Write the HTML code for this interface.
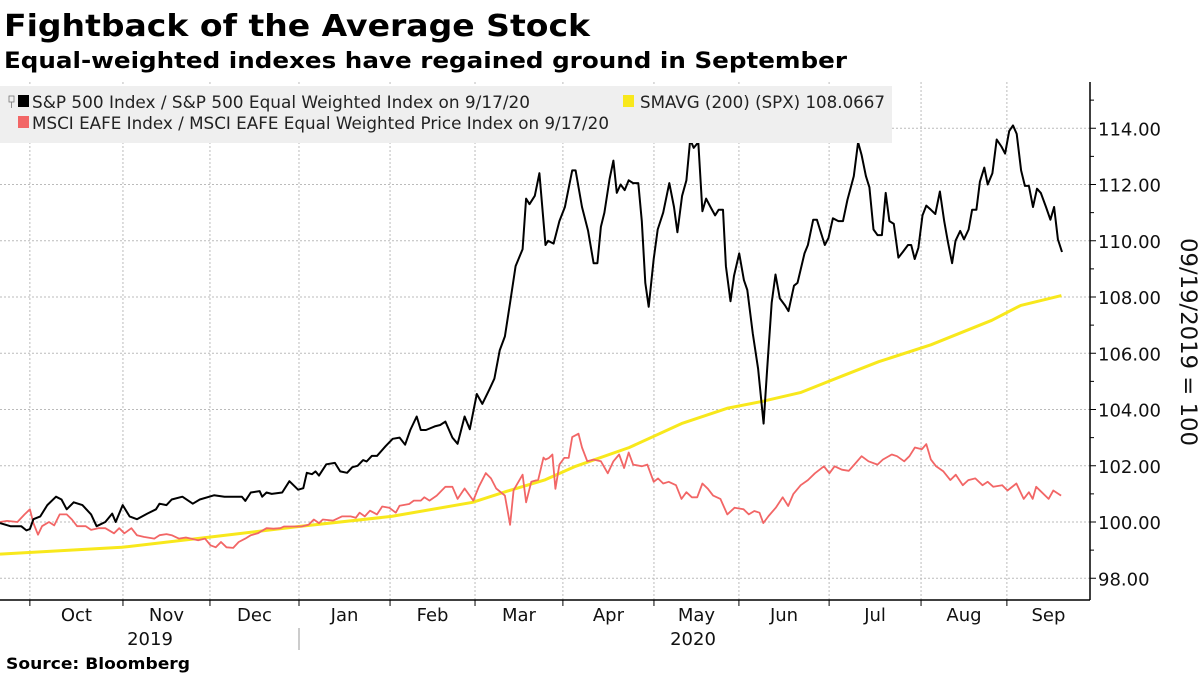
<!DOCTYPE html>
<html><head><meta charset="utf-8">
<style>
body{margin:0;background:#fff;width:1200px;height:675px;overflow:hidden;font-family:"DejaVu Sans","Liberation Sans",sans-serif;}
svg{display:block}
text{font-family:"DejaVu Sans","Liberation Sans",sans-serif;}
</style></head>
<body>
<svg id="chart" width="1200" height="675" viewBox="0 0 1200 675" xmlns="http://www.w3.org/2000/svg">
<text x="4" y="36" font-size="30" font-weight="bold" fill="#000" textLength="586" lengthAdjust="spacingAndGlyphs">Fightback of the Average Stock</text>
<text x="4" y="68" font-size="22" font-weight="bold" fill="#000" textLength="843" lengthAdjust="spacingAndGlyphs">Equal-weighted indexes have regained ground in September</text>
<g id="grid"></g>
<g id="series"></g>
<rect x="0" y="86" width="892" height="57" fill="#efefef"/>
<g>
 <g>
  <rect x="9" y="96" width="5" height="6" fill="none" stroke="#777" stroke-width="0.8"/>
  <line x1="11.5" y1="102" x2="11.5" y2="108" stroke="#777" stroke-width="0.8"/>
  <rect x="18" y="95" width="11" height="12" fill="#000"/>
  <text x="32" y="108" font-size="17" fill="#222" textLength="498" lengthAdjust="spacingAndGlyphs">S&amp;P 500 Index / S&amp;P 500 Equal Weighted Index on 9/17/20</text>
 </g>
 <g>
  <rect x="18" y="116" width="11" height="12" fill="#f26666"/>
  <text x="32" y="129" font-size="17" fill="#222" textLength="577" lengthAdjust="spacingAndGlyphs">MSCI EAFE Index / MSCI EAFE Equal Weighted Price Index on 9/17/20</text>
 </g>
 <g>
  <rect x="623" y="95" width="11" height="12" fill="#f8e81c"/>
  <text x="640" y="108" font-size="17" fill="#222" textLength="245" lengthAdjust="spacingAndGlyphs">SMAVG (200) (SPX) 108.0667</text>
 </g>
</g>
<g id="axes"></g>
<text x="6" y="669" font-size="16" font-weight="bold" fill="#000" textLength="184" lengthAdjust="spacingAndGlyphs">Source: Bloomberg</text>
</svg>
<script>
// ---- data ----
const spxDays=[0,3.6,7.3,9.1,10.3,11.5,13.9,16.3,19.3,21.2,23,25.4,28.4,31.4,33.3,36.3,38.7,39.9,42.3,44.7,47.2,50.8,53.8,55,57.4,59.2,62.9,66.5,68.9,73.8,77.4,83.4,84.6,86.5,89.5,90.4,91.9,93.7,97.3,99.8,102.8,104.6,105.8,107.6,108.8,110,112.5,115.5,117.3,119.7,121.5,123.3,125.2,126.4,128.2,130,133,135.4,137.8,139.7,141.5,143.7,145.1,146.9,149.9,151.8,153.6,156,157.8,160.2,162,164.4,166.3,168.7,170.5,172.3,174.1,175.9,177.8,180.2,181.4,182.6,184.4,186,188.1,189,190.9,192.9,194.8,197.3,198.5,200.7,202.8,204.7,206,207.2,208.4,210.2,211.5,212.7,214,215.4,216.8,218.3,220.1,221.3,222.5,223.7,225.4,226.8,228.7,230.8,232.4,233.6,235.2,236.7,238,239.2,240.8,242.2,243.5,245,246.6,247.8,249.3,250.3,251.9,253.1,254.9,256.5,257.7,259.6,261.4,263.3,264.5,266.1,267.4,268.9,270.7,271.9,273.8,275,277.4,278.6,280.4,281.7,282.9,284.4,285.7,287.2,289.1,290.7,292.2,294.4,295.9,297.1,298.6,299.8,301.2,302.6,304.1,305.4,306.7,308.2,309.8,311.3,313.1,314.2,315.4,316.7,318.1,319.4,321,322.5,324.1,325.6,326.8,328.3,329.5,331.1,332.4,334,335.2,336.7,337.9,339.4,340.6,342.2,343.7,345.3,346.6,348,349.3,350.6,352.1,353.4,354.8,356.2,357.6,358.9,360.7,362.2,363.5,364.8,366.2];
const spxValues=[99.96,99.85,99.85,99.7,99.75,100.1,100.2,100.6,100.9,100.8,100.45,100.7,100.6,100.27,99.85,100.0,100.3,100.0,100.6,100.2,100.1,100.3,100.45,100.65,100.6,100.8,100.9,100.65,100.8,100.95,100.9,100.9,100.75,101.05,101.1,100.9,101.05,101.0,101.05,101.45,101.15,101.2,101.75,101.7,101.8,101.65,102.05,102.1,101.8,101.75,101.95,102.0,102.2,102.15,102.35,102.35,102.7,102.96,103.0,102.75,103.27,103.75,103.27,103.27,103.4,103.45,103.57,103.0,102.78,103.75,103.3,104.55,104.2,104.7,105.1,106.1,106.6,107.8,109.1,109.7,111.5,111.3,111.6,112.4,109.85,110.0,109.9,110.7,111.2,112.5,112.5,111.2,110.35,109.2,109.2,110.5,111.0,112.2,112.85,111.7,112.0,111.8,112.15,112.05,112.05,110.7,108.5,107.65,109.35,110.4,111.0,112.05,111.2,110.3,111.6,112.15,113.6,113.3,113.5,111.05,111.5,111.2,110.9,111.1,111.1,109.1,107.85,108.75,109.55,108.6,108.25,106.7,105.45,103.5,105.35,107.8,108.8,107.95,107.7,107.5,108.4,108.5,109.55,109.85,110.75,110.75,110.35,109.85,110.1,110.8,110.7,110.7,111.45,112.3,113.5,113.05,112.3,111.9,110.4,110.2,110.2,111.7,110.7,110.6,109.4,109.6,109.85,109.85,109.35,109.75,110.9,111.25,111.1,110.95,111.75,110.7,110.0,109.2,110.0,110.35,110.05,110.4,111.1,111.1,112.1,112.6,112.0,112.4,113.6,113.35,113.1,113.9,114.1,113.8,112.5,111.95,111.95,111.2,111.85,111.7,111.2,110.75,111.2,110.05,109.6];
const eafeDays=[0,2.4,6,8.5,10.3,11.5,13.1,14.5,16.9,18.7,20.6,23,24.8,26.6,29.6,31.4,33.9,36.3,39.3,41.1,42.9,45.3,47.2,49.6,53.2,55,57.4,59.2,61.7,64.1,68.3,70.7,72.6,74.4,76.2,78.1,80.4,82.3,84.6,86.5,88.9,91.9,94.3,96.7,97.9,100.4,104,106.4,108.2,110,111.3,114.9,117.9,120.9,122.7,124,125.8,127.6,130,131.8,134.2,136.5,137.8,141.1,142.7,145.1,146.3,148.1,150.6,153.6,156,157.8,160.2,163.2,165.1,167.5,169.3,171.1,174.1,175.9,177.1,180.2,181.4,183.2,185.6,187.4,188.1,189.3,190.5,191.5,192.9,194.6,196.1,197.3,199.5,200.7,202.5,204.7,207.2,209.6,211.5,213.5,215.2,216.8,218.3,221.3,223.2,225.4,226.9,228.7,230.6,233.1,235,236.7,238.6,240.4,242.2,244.1,245.9,248.4,250.8,253.3,256.4,258.2,260.1,261.9,263.2,265,267.5,269.9,271.8,273.6,276.1,278.6,281,284.1,286,287.8,290.3,292.7,294.6,297.1,299.5,302.6,304.4,307.5,309.3,311.8,313.6,315.5,317.9,319.4,321,322.8,325.3,327.7,329.6,332,333.9,336.3,338.8,340.6,342.5,345.6,347.4,350.5,353,354.8,356.1,357.3,359.2,361.6,363.2,365.9];
const eafeValues=[100.0,100.04,100.0,100.27,100.45,99.96,99.55,99.85,100.0,99.88,100.27,100.27,100.09,99.85,99.85,99.72,99.78,99.78,99.6,99.78,99.6,99.78,99.53,99.47,99.41,99.53,99.57,99.53,99.41,99.45,99.35,99.41,99.17,99.1,99.29,99.1,99.08,99.29,99.41,99.53,99.6,99.78,99.76,99.78,99.84,99.84,99.84,99.9,100.09,99.96,100.09,100.05,100.2,100.2,100.15,100.33,100.2,100.4,100.27,100.55,100.51,100.33,100.58,100.64,100.76,100.76,100.88,100.76,100.94,101.25,101.25,100.82,101.19,100.76,101.25,101.74,101.55,101.19,100.94,99.9,101.13,101.68,100.7,101.43,101.5,102.29,102.22,102.28,102.4,101.18,102.04,102.28,102.28,103.02,103.14,102.65,102.16,102.22,102.16,101.73,102.16,102.4,101.92,102.47,102.04,101.98,102.04,101.43,101.55,101.37,101.43,101.31,100.82,101.06,100.88,100.88,101.37,101.18,100.94,100.82,100.27,100.51,100.45,100.27,100.39,100.33,99.96,100.21,100.51,100.88,100.57,101.0,101.31,101.49,101.73,101.98,101.73,101.98,101.86,101.82,102.04,102.34,102.16,102.04,102.22,102.4,102.34,102.16,102.34,102.65,102.59,102.77,102.22,101.98,101.8,101.49,101.68,101.31,101.49,101.55,101.31,101.43,101.25,101.31,101.12,101.37,100.82,101.06,100.82,101.25,101.06,100.82,101.12,100.94];
const smaDays=[0,42,73,103,135,163,175,188,198.5,217,235,251,263.3,276,290.7,303,321,342,352,366];
const smaValues=[98.86,99.1,99.47,99.84,100.2,100.7,101.1,101.5,101.98,102.65,103.5,104.05,104.3,104.6,105.2,105.7,106.3,107.17,107.7,108.05];
const yTickValues=[98,100,102,104,106,108,110,112,114];
const yTickLabels=["98.00","100.00","102.00","104.00","106.00","108.00","110.00","112.00","114.00"];
const monthStartDays=[10.3,42.4,72.4,103.1,134.5,163.8,194.1,225.5,254.8,285.9,317.6,347.2];
const monthLabels=["Oct","Nov","Dec","Jan","Feb","Mar","Apr","May","Jun","Jul","Aug","Sep"];
// ---- axes ----
const X0=0,DAY_PX=2.9,PLOT_RIGHT=1090,PLOT_TOP=82,PLOT_BOTTOM=600;
function xS(d){return X0+d*DAY_PX;}
function yS(v){return 522-(v-100)*28.125;}
const NS="http://www.w3.org/2000/svg";
function mk(tag,attrs,parent){const e=document.createElementNS(NS,tag);for(const k in attrs)e.setAttribute(k,attrs[k]);parent.appendChild(e);return e;}
const grid=document.getElementById('grid'),axes=document.getElementById('axes'),series=document.getElementById('series');
yTickValues.forEach((v,i)=>{
  const g=mk('line',{x1:0,x2:PLOT_RIGHT,y1:yS(v),y2:yS(v),stroke:'#bbb','stroke-width':1,'stroke-dasharray':'2,2'},grid);
  
  
  const t=mk('line',{x1:PLOT_RIGHT,x2:PLOT_RIGHT+6,y1:yS(v),y2:yS(v),stroke:'#000','stroke-width':1},axes);
  
  
  const m=mk('line',{x1:PLOT_RIGHT,x2:PLOT_RIGHT+4,y1:yS(v+1),y2:yS(v+1),stroke:'#000','stroke-width':1},axes);
  
  
  const l=mk('text',{x:PLOT_RIGHT+8,y:yS(v)+7,'font-size':18,fill:'#111'},axes);
  l.textContent=yTickLabels[i];
  
  
});
monthStartDays.forEach((d,i)=>{
  const g=mk('line',{x1:xS(d),x2:xS(d),y1:PLOT_TOP,y2:PLOT_BOTTOM,stroke:'#bbb','stroke-width':1,'stroke-dasharray':'2,2'},grid);
  
  
  const t=mk('line',{x1:xS(d),x2:xS(d),y1:PLOT_BOTTOM,y2:PLOT_BOTTOM+6,stroke:'#000','stroke-width':1},axes);
  
  
  const next=i<monthStartDays.length-1?xS(monthStartDays[i+1]):PLOT_RIGHT;
  const l=mk('text',{x:(xS(d)+next)/2,y:621,'font-size':18,fill:'#111','text-anchor':'middle'},axes);
  l.textContent=monthLabels[i];
  
  
});
const ax=mk('line',{x1:0,x2:PLOT_RIGHT,y1:PLOT_BOTTOM,y2:PLOT_BOTTOM,stroke:'#000','stroke-width':1.5},axes);


const ay=mk('line',{x1:PLOT_RIGHT,x2:PLOT_RIGHT,y1:PLOT_TOP,y2:PLOT_BOTTOM,stroke:'#000','stroke-width':1.5},axes);


const y1=mk('text',{x:150,y:645,'font-size':18,fill:'#111','text-anchor':'middle'},axes);y1.textContent='2019';


const y2=mk('text',{x:693,y:645,'font-size':18,fill:'#111','text-anchor':'middle'},axes);y2.textContent='2020';


const ys=mk('line',{x1:xS(monthStartDays[3]),x2:xS(monthStartDays[3]),y1:628,y2:650,stroke:'#999','stroke-width':1},axes);


const yt=mk('text',{x:1181,y:342,'font-size':22,fill:'#111','text-anchor':'middle',transform:'rotate(90 1181 342)',textLength:208,lengthAdjust:'spacingAndGlyphs'},axes);
yt.textContent='09/19/2019 = 100';


// ---- series ----
function path(days,vals){return days.map((d,i)=>(i?'L':'M')+xS(d).toFixed(1)+' '+yS(vals[i]).toFixed(1)).join(' ');}
const sma=mk('path',{d:path(smaDays,smaValues),fill:'none',stroke:'#f8e81c','stroke-width':3,'stroke-linejoin':'round'},series);


const eafe=mk('path',{d:path(eafeDays,eafeValues),fill:'none',stroke:'#f26666','stroke-width':1.8,'stroke-linejoin':'round'},series);


const spx=mk('path',{d:path(spxDays,spxValues),fill:'none',stroke:'#000','stroke-width':2,'stroke-linejoin':'round'},series);


</script>
</body></html>
